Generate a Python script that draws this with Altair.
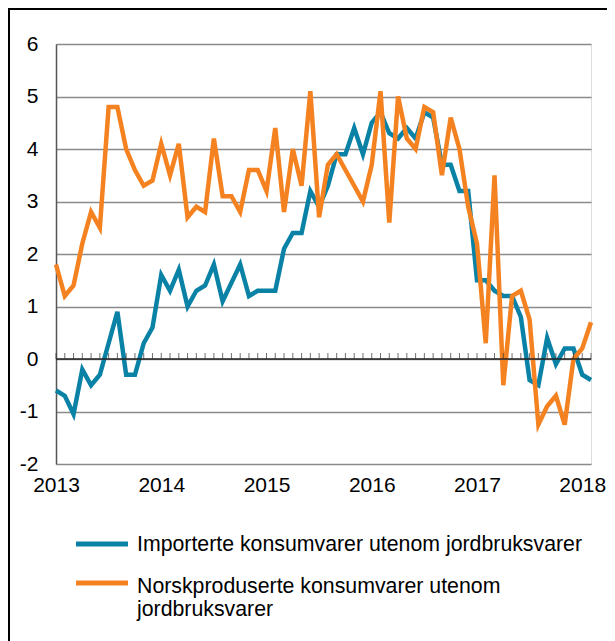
import altair as alt
import pandas as pd

# ---- data -------------------------------------------------------------
months = [f"{y}-{m:02d}" for y in range(2013, 2019) for m in range(1, 13)][:62]

importerte = [-0.6, -0.7, -1.05, -0.2, -0.5, -0.3, 0.3, 0.9, -0.3, -0.3, 0.3, 0.6,
              1.6, 1.3, 1.7, 1.0, 1.3, 1.4, 1.8, 1.1, 1.45, 1.8, 1.2, 1.3,
              1.3, 1.3, 2.1, 2.4, 2.4, 3.2, 2.9, 3.3, 3.9, 3.9, 4.4, 3.9,
              4.5, 4.7, 4.3, 4.2, 4.4, 4.2, 4.7, 4.6, 3.7, 3.7, 3.2, 3.2,
              1.5, 1.5, 1.3, 1.2, 1.2, 0.8, -0.4, -0.5, 0.4, -0.1, 0.2, 0.2,
              -0.3, -0.4]

norsk = [1.8, 1.2, 1.4, 2.2, 2.8, 2.5, 4.8, 4.8, 4.0, 3.6, 3.3, 3.4,
         4.1, 3.5, 4.1, 2.7, 2.9, 2.8, 4.2, 3.1, 3.1, 2.8, 3.6, 3.6,
         3.2, 4.4, 2.8, 4.0, 3.3, 5.1, 2.7, 3.7, 3.9, 3.6, 3.3, 3.0,
         3.7, 5.1, 2.6, 5.0, 4.2, 4.0, 4.8, 4.7, 3.5, 4.6, 4.0, 2.9,
         2.2, 0.3, 3.5, -0.5, 1.2, 1.3, 0.75, -1.25, -0.9, -0.7, -1.25, 0.0,
         0.2, 0.7]

series_names = ["Importerte konsumvarer utenom jordbruksvarer",
                "Norskproduserte konsumvarer utenom jordbruksvarer"]
legend_text = ["Importerte konsumvarer utenom jordbruksvarer",
               "Norskproduserte konsumvarer utenom\njordbruksvarer"]
colors = ["#0A82A6", "#F58220"]
year_ticks = ["2013-01", "2014-01", "2015-01", "2016-01", "2017-01", "2018-01"]
y_ticks = [-2, -1, 0, 1, 2, 3, 4, 5, 6]

df = pd.DataFrame({
    "month": months * 2,
    "value": importerte + norsk,
    "series": [series_names[0]] * len(importerte) + [series_names[1]] * len(norsk),
})
month_df = pd.DataFrame({"month": months})
one = pd.DataFrame({"k": [0]})

W, H = 535, 420
FONT = "Liberation Sans"

x_enc = alt.X("month:O",
              scale=alt.Scale(type="point", padding=0),
              axis=alt.Axis(values=year_ticks, labelExpr="slice(datum.value, 0, 4)",
                            labelAngle=0, title=None, ticks=False, domain=False,
                            grid=False, labelFontSize=21, labelPadding=10,
                            labelColor="#000", labelFont=FONT,
                            labelOverlap=False, labelBound=False, labelFlush=False))
y_enc = alt.Y("value:Q",
              scale=alt.Scale(domain=[-2, 6], nice=False, zero=False),
              axis=alt.Axis(values=y_ticks, labelExpr="'' + datum.value", title=None,
                            ticks=False, labelFontSize=21, labelPadding=18,
                            labelColor="#000", labelFont=FONT,
                            grid=True, gridColor="#8a8a8a", gridWidth=1.5,
                            domain=True, domainColor="#555", domainWidth=1.5))

lines = alt.Chart(df).mark_line(strokeWidth=4.5, strokeJoin="miter").encode(
    x=x_enc, y=y_enc,
    color=alt.Color("series:N", scale=alt.Scale(domain=series_names, range=colors), legend=None),
)

zero = alt.Chart(one).mark_rule(color="#222", strokeWidth=1.3).encode(y=alt.datum(0))

ticks = alt.Chart(month_df).mark_tick(orient="vertical", size=6, thickness=1,
                                      color="#333", yOffset=-3).encode(
    x=alt.X("month:O"), y=alt.datum(0))

border = alt.Chart(one).mark_rect(fillOpacity=0, stroke="#000", strokeWidth=2).encode(
    x=alt.value(-47), x2=alt.value(W + 100), y=alt.value(-35), y2=alt.value(H + 400))

leg_layers = []
leg_line_y = [544 - 44, 583 - 44]
leg_text_y = [551 - 44, 593 - 44]
for i in range(2):
    leg_df = pd.DataFrame({"label": [legend_text[i]]})
    leg_layers.append(alt.Chart(leg_df).mark_rule(strokeWidth=5, color=colors[i]).encode(
        x=alt.value(76 - 56), x2=alt.value(128 - 56), y=alt.value(leg_line_y[i])))
    leg_layers.append(alt.Chart(leg_df).mark_text(
        align="left", baseline="alphabetic", fontSize=21.3, font=FONT,
        lineBreak="\n", lineHeight=23, color="#000").encode(
        text="label:N", x=alt.value(137 - 56), y=alt.value(leg_text_y[i])))

chart = alt.layer(lines, zero, ticks, border, *leg_layers).properties(
    width=W, height=H,
    autosize=alt.AutoSizeParams(type="none"),
    padding={"left": 48, "top": 36, "right": 16, "bottom": 177},
).configure_view(stroke=None).configure(font=FONT)

chart.save("out.html", embed_options={"renderer": "svg", "actions": False})
